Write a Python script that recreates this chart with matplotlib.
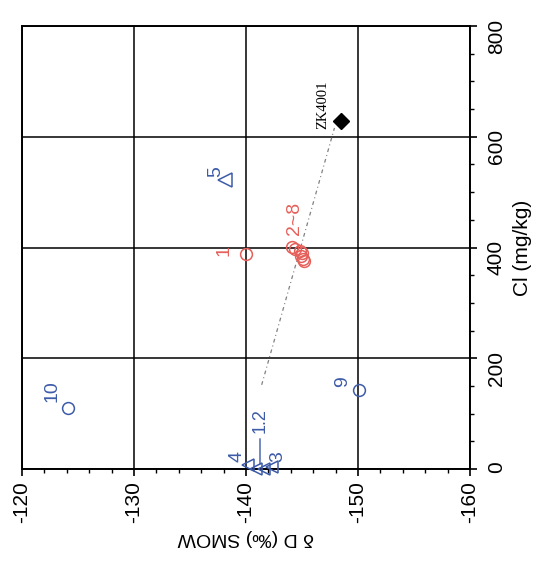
import matplotlib
matplotlib.use("Agg")
import matplotlib.pyplot as plt
from matplotlib.ticker import MultipleLocator

plt.rcParams['font.family'] = ['Liberation Sans', 'DejaVu Sans']
plt.rcParams['axes.unicode_minus'] = False

blue = '#3d5ba8'
red = '#e5605a'

# deltaD (permil SMOW) and Cl (mg/kg) of the samples
tri_dD = [-140.2, -140.9, -141.6, -142.3]      # samples 4, 1, 2, 3
tri_cl = [7, 0, 0, 4]
tri5_dD = [-138.1]
tri5_cl = [522]
red_dD = [-140.0, -144.1, -144.4, -144.8, -145.0, -145.1, -145.2, -144.9]   # 1, 2~8
red_cl = [388, 401, 398, 393, 390, 380, 376, 385]
blue_dD = [-150.1, -124.1]                     # 9, 10
blue_cl = [143, 110]
zk_dD = [-148.5]
zk_cl = [628]
mix_dD = [-141.4, -147.9]
mix_cl = [152, 616]

fig = plt.figure(figsize=(5.39, 5.61), dpi=100)
ax = fig.add_axes([22 / 539, 1 - 469 / 561, 448 / 539, 443 / 561])

ax.set_xlim(-120, -160)
ax.set_ylim(0, 800)
ax.yaxis.tick_right()
ax.yaxis.set_label_position('right')
ax.set_xticks([-120, -130, -140, -150, -160])
ax.set_yticks([0, 200, 400, 600, 800])
ax.xaxis.set_minor_locator(MultipleLocator(2))
ax.yaxis.set_minor_locator(MultipleLocator(50))
ax.tick_params(which='major', length=5, width=1.2, labelsize=15, labelrotation=90)
ax.tick_params(which='minor', length=3, width=1.0)
ax.tick_params(axis='x', pad=4)
ax.tick_params(axis='y', pad=7)
ax.grid(which='major', color='black', lw=1.1)
for s in ax.spines.values():
    s.set_linewidth(1.4)

ax.set_xlabel('δ D (‰) SMOW', rotation=180, fontsize=14, labelpad=4)
ax.set_ylabel('Cl (mg/kg)', rotation=90, fontsize=15, labelpad=5)

# mixing line towards ZK4001
ax.plot(mix_dD, mix_cl, color='#808080', lw=0.9, dashes=[3, 2.5, 0.8, 2.5])

ax.plot(tri_dD, tri_cl, ls='none', marker='<', ms=8.5, mfc='none', mec=blue, mew=1.1, clip_on=False, zorder=4)
ax.plot(tri5_dD, tri5_cl, ls='none', marker='<', ms=10, mfc='none', mec=blue, mew=1.1, zorder=4)
ax.plot(red_dD, red_cl, ls='none', marker='o', ms=8.5, mfc='none', mec=red, mew=1.1, zorder=4)
ax.plot(blue_dD, blue_cl, ls='none', marker='o', ms=8.5, mfc='none', mec=blue, mew=1.1, zorder=4)
ax.plot(zk_dD, zk_cl, ls='none', marker='D', ms=8.5, color='black', zorder=5)


def tag(txt, x, y, dx, dy, color, size=14, **kw):
    ax.annotate(txt, (x, y), xytext=(dx, dy), textcoords='offset pixels', rotation=90,
                ha='center', va='center', color=color, fontsize=size, **kw)


tag('5', tri5_dD[0], tri5_cl[0], -9, 8, blue)
tag('1', red_dD[0], red_cl[0], -22, 4, red)
tag('2~8', red_dD[1], red_cl[1], 3, 29, red)
tag('9', blue_dD[0], blue_cl[0], -16, 8, blue)
tag('10', blue_dD[1], blue_cl[1], -16, 17, blue)
tag('4', tri_dD[0], tri_cl[0], -11, 9, blue)
tag('3', tri_dD[3], tri_cl[3], 6, 10, blue)
ax.annotate('1.2', (-141.25, 4), xytext=(0, 46), textcoords='offset pixels', rotation=90,
            ha='center', va='center', color=blue, fontsize=13,
            arrowprops=dict(arrowstyle='-', color=blue, lw=1.0, shrinkA=2, shrinkB=2))
tag('ZK4001', zk_dD[0], zk_cl[0], -18, 16, 'black', size=10.5, family='Liberation Serif')

fig.savefig('out.png', dpi=100)
